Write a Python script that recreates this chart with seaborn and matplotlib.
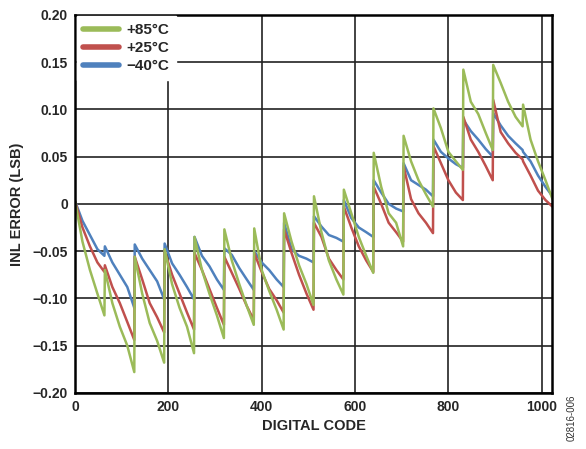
import matplotlib
matplotlib.use("Agg")
import matplotlib.pyplot as plt
from matplotlib.lines import Line2D
import pandas as pd
import seaborn as sns
import numpy as np

# codes sampled inside each 64-code segment of the sawtooth
seg_offsets = [0, 16, 32, 48, 63]
codes = [s + o for s in range(0, 1024, 64) for o in seg_offsets]

inl_85 = [
    0.003, -0.040, -0.070, -0.095, -0.118,
    -0.070, -0.105, -0.130, -0.150, -0.178,
    -0.056, -0.095, -0.126, -0.145, -0.168,
    -0.048, -0.085, -0.110, -0.130, -0.158,
    -0.035, -0.070, -0.095, -0.118, -0.142,
    -0.027, -0.060, -0.085, -0.108, -0.128,
    -0.026, -0.070, -0.092, -0.112, -0.133,
    -0.010, -0.040, -0.065, -0.085, -0.107,
    0.008, -0.030, -0.060, -0.080, -0.096,
    0.015, -0.010, -0.035, -0.055, -0.073,
    0.054, 0.018, -0.010, -0.020, -0.045,
    0.072, 0.045, 0.025, 0.010, -0.003,
    0.101, 0.080, 0.055, 0.045, 0.036,
    0.142, 0.108, 0.095, 0.075, 0.057,
    0.147, 0.128, 0.108, 0.092, 0.082,
    0.105, 0.068, 0.045, 0.025, 0.005,
]
inl_25 = [
    0.003, -0.025, -0.045, -0.062, -0.072,
    -0.065, -0.088, -0.105, -0.125, -0.144,
    -0.056, -0.080, -0.105, -0.120, -0.136,
    -0.050, -0.075, -0.095, -0.115, -0.133,
    -0.052, -0.070, -0.090, -0.110, -0.128,
    -0.056, -0.073, -0.090, -0.108, -0.123,
    -0.052, -0.072, -0.090, -0.102, -0.115,
    -0.027, -0.052, -0.075, -0.095, -0.112,
    -0.020, -0.035, -0.058, -0.070, -0.080,
    -0.003, -0.025, -0.045, -0.060, -0.072,
    0.018, 0.000, -0.020, -0.030, -0.040,
    0.040, 0.005, -0.010, -0.020, -0.031,
    0.061, 0.043, 0.025, 0.012, 0.004,
    0.092, 0.068, 0.055, 0.040, 0.025,
    0.110, 0.076, 0.064, 0.054, 0.047,
    0.045, 0.030, 0.014, 0.004, -0.003,
]
inl_m40 = [
    0.003, -0.018, -0.033, -0.048, -0.055,
    -0.045, -0.062, -0.075, -0.088, -0.110,
    -0.043, -0.058, -0.070, -0.082, -0.101,
    -0.042, -0.063, -0.075, -0.088, -0.101,
    -0.035, -0.055, -0.066, -0.080, -0.091,
    -0.047, -0.054, -0.068, -0.080, -0.091,
    -0.050, -0.062, -0.070, -0.080, -0.088,
    -0.020, -0.048, -0.055, -0.058, -0.062,
    -0.013, -0.024, -0.033, -0.036, -0.040,
    0.004, -0.015, -0.025, -0.030, -0.035,
    0.025, 0.012, 0.000, -0.005, -0.008,
    0.043, 0.025, 0.020, 0.015, 0.008,
    0.068, 0.055, 0.048, 0.042, 0.038,
    0.089, 0.077, 0.068, 0.058, 0.050,
    0.096, 0.083, 0.072, 0.064, 0.057,
    0.055, 0.045, 0.030, 0.018, 0.008,
]

labels = ["+85°C", "+25°C", "\u221240°C"]
colors = {"+85°C": "#9BBB59", "+25°C": "#C0504D", "\u221240°C": "#4F81BD"}

yticks = [0.20, 0.15, 0.10, 0.05, 0, -0.05, -0.10, -0.15, -0.20]
ytick_labels = ["0.20", "0.15", "0.10", "0.05", "0", "\u22120.05", "\u22120.10", "\u22120.15", "\u22120.20"]
xticks = [0, 200, 400, 600, 800, 1000]

df = pd.concat([
    pd.DataFrame({"code": codes, "inl": inl_85, "temp": labels[0]}),
    pd.DataFrame({"code": codes, "inl": inl_25, "temp": labels[1]}),
    pd.DataFrame({"code": codes, "inl": inl_m40, "temp": labels[2]}),
])

sns.set_style("white")
plt.rcParams['font.family'] = ['Liberation Sans', 'DejaVu Sans']

fig, ax = plt.subplots(figsize=(5.86, 4.49), dpi=100)
fig.subplots_adjust(left=0.128, right=0.942, top=0.967, bottom=0.125)

# draw -40 first, +85 last so green sits on top
sns.lineplot(data=df, x="code", y="inl", hue="temp", hue_order=labels[::-1],
             palette=colors, estimator=None, linewidth=1.8, legend=False, ax=ax)

ax.set_xlim(0, 1022)
ax.set_ylim(-0.20, 0.20)
ax.set_xticks(xticks)
ax.set_yticks(yticks)
ax.set_yticklabels(ytick_labels)
ax.grid(True, color="#222222", linewidth=1.2)
ax.set_axisbelow(True)
for sp in ax.spines.values():
    sp.set_color("black")
    sp.set_linewidth(1.8)
ax.tick_params(length=0, pad=5, labelsize=10)
for t in ax.get_xticklabels() + ax.get_yticklabels():
    t.set_fontweight("bold")

ax.set_xlabel("DIGITAL CODE", fontsize=10.5, fontweight="bold", labelpad=4)
ax.set_ylabel("INL ERROR (LSB)", fontsize=10.5, fontweight="bold", labelpad=6)

handles = [Line2D([0], [0], color=colors[l], linewidth=4, solid_capstyle="round") for l in labels]
leg = ax.legend(handles, labels, loc="upper left", frameon=True, fancybox=False,
                framealpha=1, facecolor="white", edgecolor="white",
                prop={"weight": "bold", "size": 11}, handlelength=2.3,
                handletextpad=0.5, labelspacing=0.25, borderaxespad=0.1,
                borderpad=0.45)
leg.set_zorder(5)

fig.text(0.976, 0.07, "02816-006", rotation=90, fontsize=7, color="#333333",
         ha="center", va="center")

fig.savefig("out.png", dpi=100)
